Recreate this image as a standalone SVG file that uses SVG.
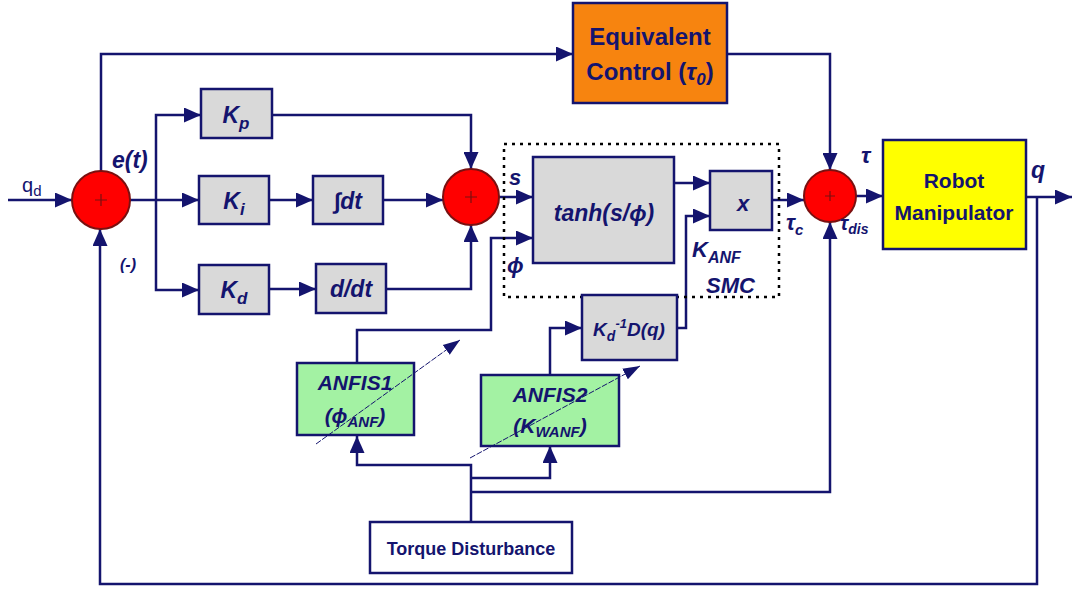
<svg xmlns="http://www.w3.org/2000/svg" width="1072" height="590" viewBox="0 0 1072 590">
<defs>
<style>
.ln{fill:none;stroke:#14146e;stroke-width:2.5}
.dash{fill:none;stroke:#14146e;stroke-width:1;stroke-dasharray:6,1.5}
.box{fill:#d9d9d9;stroke:#14146e;stroke-width:2.5}
.sum{fill:#ff0000;stroke:#7a1010;stroke-width:2}
.plus{stroke:#7a1010;stroke-width:1.2}
.t{font-family:"Liberation Sans",Arial,sans-serif;font-weight:bold;font-style:italic;fill:#14146e}
.b{font-family:"Liberation Sans",Arial,sans-serif;font-weight:bold;fill:#14146e}
</style>
<marker id="ah" markerUnits="userSpaceOnUse" markerWidth="17" markerHeight="15" viewBox="0 0 17 15" refX="17" refY="7.5" orient="auto">
<path d="M0,0 L17,7.5 L0,15 z" fill="#14146e"/>
</marker>
<marker id="ahs" markerUnits="userSpaceOnUse" markerWidth="17" markerHeight="14" viewBox="0 0 17 14" refX="17" refY="7" orient="auto">
<path d="M0,1 L17,7 L0,13 z" fill="#14146e"/>
</marker>
</defs>
<rect width="1072" height="590" fill="#ffffff"/>
<g id="connectors">
<path class="ln" d="M8,200 H72" marker-end="url(#ah)"/>
<path class="ln" d="M101,171 V54 H573" marker-end="url(#ah)"/>
<path class="ln" d="M727,54 H830 V170" marker-end="url(#ah)"/>
<path class="ln" d="M130,200 H199" marker-end="url(#ah)"/>
<path class="ln" d="M156,200 V115 H201" marker-end="url(#ah)"/>
<path class="ln" d="M156,200 V290 H199" marker-end="url(#ah)"/>
<path class="ln" d="M269,200 H313" marker-end="url(#ah)"/>
<path class="ln" d="M269,289 H316" marker-end="url(#ah)"/>
<path class="ln" d="M272,115 H471 V169" marker-end="url(#ah)"/>
<path class="ln" d="M383,200 H443" marker-end="url(#ah)"/>
<path class="ln" d="M386,289 H471 V225" marker-end="url(#ah)"/>
<path class="ln" d="M499,197 H533" marker-end="url(#ah)"/>
<path class="ln" d="M357,363 V330 H491 V238 H533" marker-end="url(#ah)"/>
<path class="ln" d="M675,183 H710" marker-end="url(#ah)"/>
<path class="ln" d="M677,328 H686 V216 H710" marker-end="url(#ah)"/>
<path class="ln" d="M550,375 V328 H582" marker-end="url(#ah)"/>
<path class="ln" d="M772,200 H804" marker-end="url(#ah)"/>
<path class="ln" d="M856,196 H883" marker-end="url(#ah)"/>
<path class="ln" d="M1026,197 H1072" marker-end="url(#ah)"/>
<path class="ln" d="M1037,197 V584 H100 V229" marker-end="url(#ah)"/>
<path class="ln" d="M471,522 V465 H357 V436" marker-end="url(#ah)"/>
<path class="ln" d="M471,478 H550 V446" marker-end="url(#ah)"/>
<path class="ln" d="M471,492 H830 V222" marker-end="url(#ah)"/>
</g>
<g id="smc-region">
<rect x="504" y="144" width="275" height="153" fill="none" stroke="#000000" stroke-width="2.5" stroke-dasharray="3,5"/>
<text class="t" x="692" y="257" font-size="22">K<tspan dy="6" font-size="16">ANF</tspan></text>
<text class="t" x="706" y="293" font-size="22">SMC</text>
</g>
<g id="sum1">
<circle class="sum" cx="101" cy="200" r="29"/>
<path class="plus" d="M95,200 H107 M101,194 V206"/>
</g>
<g id="sum2">
<circle class="sum" cx="471" cy="197" r="28"/>
<path class="plus" d="M465,197 H477 M471,191 V203"/>
</g>
<g id="sum3">
<circle class="sum" cx="830" cy="196" r="26"/>
<path class="plus" d="M825,196 H835 M830,191 V201"/>
</g>
<g id="equivalent-control">
<rect x="573" y="3" width="154" height="100" fill="#f7840f" stroke="#14146e" stroke-width="2.5"/>
<text class="b" x="650" y="45" font-size="24" text-anchor="middle">Equivalent</text>
<text class="b" x="650" y="80" font-size="24" text-anchor="middle">Control (<tspan font-style="italic">τ<tspan dy="5" font-size="17">0</tspan></tspan><tspan dy="-5">)</tspan></text>
</g>
<g id="kp">
<rect class="box" x="201" y="89" width="71" height="49"/>
<text class="t" x="236" y="123" font-size="23" text-anchor="middle">K<tspan dy="6" font-size="17">p</tspan></text>
</g>
<g id="ki">
<rect class="box" x="199" y="176" width="70" height="48"/>
<text class="t" x="234" y="209" font-size="23" text-anchor="middle">K<tspan dy="6" font-size="17">i</tspan></text>
</g>
<g id="kd">
<rect class="box" x="199" y="265" width="70" height="49"/>
<text class="t" x="234" y="298" font-size="23" text-anchor="middle">K<tspan dy="6" font-size="17">d</tspan></text>
</g>
<g id="integral">
<rect class="box" x="313" y="176" width="70" height="48"/>
<text class="t" x="348" y="209" font-size="23" text-anchor="middle">∫dt</text>
</g>
<g id="derivative">
<rect class="box" x="316" y="264" width="70" height="49"/>
<text class="t" x="351" y="297" font-size="23" text-anchor="middle">d/dt</text>
</g>
<g id="tanh">
<rect class="box" x="533" y="157" width="141" height="106"/>
<text class="t" x="604" y="221" font-size="23" text-anchor="middle">tanh(s/ϕ)</text>
</g>
<g id="multiply">
<rect class="box" x="710" y="171" width="62" height="59"/>
<text class="t" x="743" y="211" font-size="22" text-anchor="middle">x</text>
</g>
<g id="kd-inv-dq">
<rect class="box" x="582" y="295" width="95" height="65"/>
<text class="t" x="629" y="336" font-size="19" text-anchor="middle">K<tspan dy="5" font-size="14">d</tspan><tspan dy="-13" font-size="13">-1</tspan><tspan dy="8">D(q)</tspan></text>
</g>
<g id="robot">
<rect x="883" y="140" width="143" height="109" fill="#ffff00" stroke="#14146e" stroke-width="2.5"/>
<text class="b" x="954" y="188" font-size="21" text-anchor="middle">Robot</text>
<text class="b" x="954" y="220" font-size="21" text-anchor="middle">Manipulator</text>
</g>
<g id="anfis1">
<rect x="297" y="363" width="117" height="72" fill="#a3f2a3" stroke="#14146e" stroke-width="2.5"/>
<text class="t" x="355" y="390" font-size="21" text-anchor="middle">ANFIS1</text>
<text class="t" x="355" y="423" font-size="21" text-anchor="middle">(ϕ<tspan dy="4" font-size="15">ANF</tspan><tspan dy="-4">)</tspan></text>
</g>
<g id="anfis2">
<rect x="481" y="375" width="138" height="71" fill="#a3f2a3" stroke="#14146e" stroke-width="2.5"/>
<text class="t" x="550" y="402" font-size="21" text-anchor="middle">ANFIS2</text>
<text class="t" x="550" y="433" font-size="21" text-anchor="middle">(K<tspan dy="4" font-size="15">WANF</tspan><tspan dy="-4">)</tspan></text>
</g>
<g id="torque-disturbance">
<rect x="370" y="522" width="202" height="51" fill="#ffffff" stroke="#14146e" stroke-width="2.5"/>
<text class="b" x="471" y="555" font-size="18" text-anchor="middle">Torque Disturbance</text>
</g>
<g id="adaptation-arrows">
<path class="dash" d="M316,444 L460,340" marker-end="url(#ahs)"/>
<path class="dash" d="M470,458 L640,366" marker-end="url(#ahs)"/>
</g>
<g id="labels">
<text x="22" y="192" font-family="Liberation Sans,Arial,sans-serif" font-size="20" fill="#14146e">q<tspan dy="4" font-size="15">d</tspan></text>
<text class="t" x="112" y="168" font-size="23">e(t)</text>
<text class="t" x="120" y="270" font-size="16">(-)</text>
<text class="t" x="509" y="185" font-size="22">s</text>
<text class="t" x="507" y="273" font-size="22">ϕ</text>
<text class="t" x="861" y="163" font-size="23">τ</text>
<text class="t" x="1031" y="178" font-size="23">q</text>
<text class="t" x="786" y="230" font-size="22">τ<tspan dy="5" font-size="15">c</tspan></text>
<text class="t" x="840" y="230" font-size="20">τ<tspan dy="4" font-size="14">dis</tspan></text>
</g>
</svg>
